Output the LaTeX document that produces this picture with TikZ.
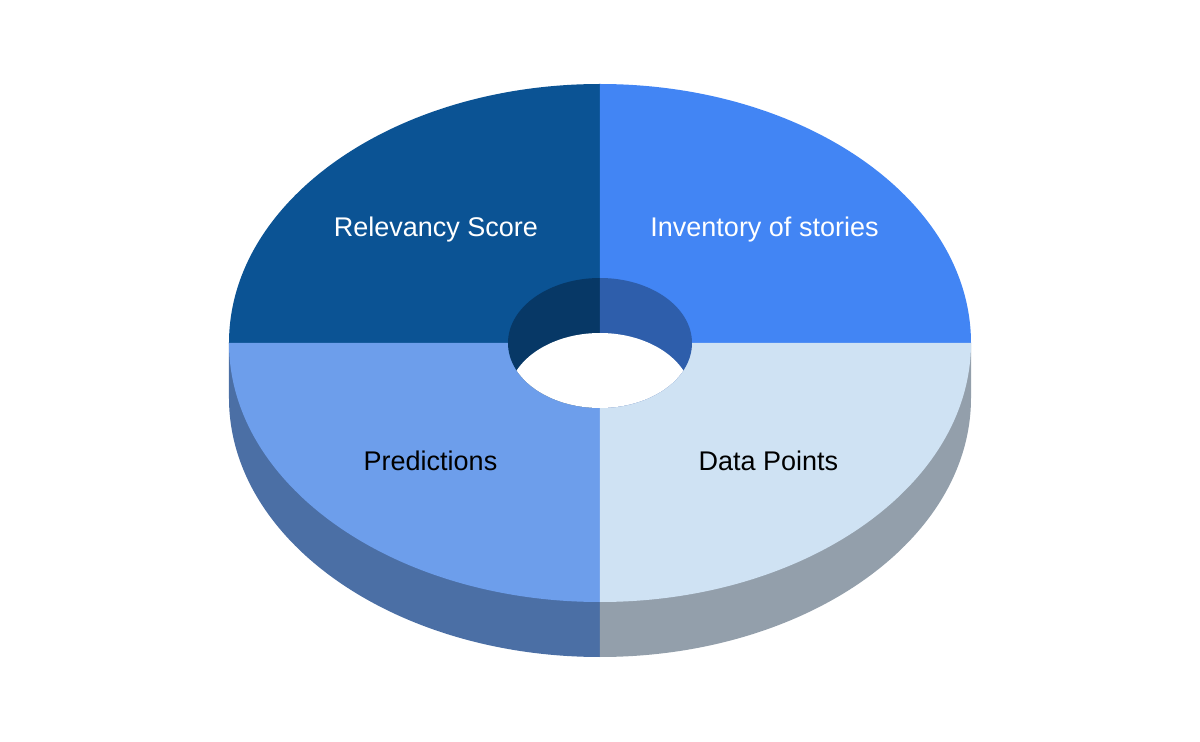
\documentclass[tikz,border=0pt]{standalone}
\usepackage{fontspec}
\setmainfont{Liberation Sans}
\usetikzlibrary{positioning}
\definecolor{relevancy}{HTML}{0B5394}
\definecolor{inventory}{HTML}{4285F4}
\definecolor{predictions}{HTML}{6D9EEB}
\definecolor{datapoints}{HTML}{CFE2F3}
\definecolor{wallleft}{HTML}{4B6FA5}
\definecolor{wallright}{HTML}{939FAB}
\definecolor{holeleft}{HTML}{073866}
\definecolor{holeright}{HTML}{2E5EAB}
\tikzset{
outer/.style={x radius=371, y radius=259},
inner/.style={x radius=92, y radius=65},
label/.style={anchor=base, inner sep=0pt, font=\fontsize{20.25pt}{24pt}\selectfont},
}

\begin{document}
\begin{tikzpicture}[x=0.75pt, y=0.75pt]
            \useasboundingbox (-600,-399) rectangle (600,343);
            % side wall
            \fill[wallleft] (-371,0) -- (-371,-55) arc[start angle=180, end angle=270, outer] -- (0,0) -- cycle;
            \fill[wallright] (0,-314) arc[start angle=270, end angle=360, outer] -- (371,0) -- (0,0) -- cycle;
            % top face
            \fill[relevancy] (0,0) -- (0,259) arc[start angle=90, end angle=180, outer] -- cycle;
            \fill[inventory] (0,0) -- (371,0) arc[start angle=0, end angle=90, outer] -- cycle;
            \fill[predictions] (0,0) -- (-371,0) arc[start angle=180, end angle=270, outer] -- cycle;
            \fill[datapoints] (0,0) -- (0,-259) arc[start angle=270, end angle=360, outer] -- cycle;
            % hole
            \fill[holeleft] (0,65) arc[start angle=90, end angle=270, inner] -- cycle;
            \fill[holeright] (0,-65) arc[start angle=-90, end angle=90, inner] -- cycle;
            \begin{scope}
                \clip (0,0) ellipse[inner];
                \fill[white] (0,-55) ellipse[inner];
            \end{scope}
            % labels
            \node[label, white] (rel) at (-164,106) {Relevancy Score};
            \node[label, white] (inv) at (164.5,106) {Inventory of stories};
            \node[label, black] (pred) at (-169.5,-128) {Predictions};
            \node[label, black] (dp) at (168.5,-128) {Data Points};
        \end{tikzpicture}
\end{document}
